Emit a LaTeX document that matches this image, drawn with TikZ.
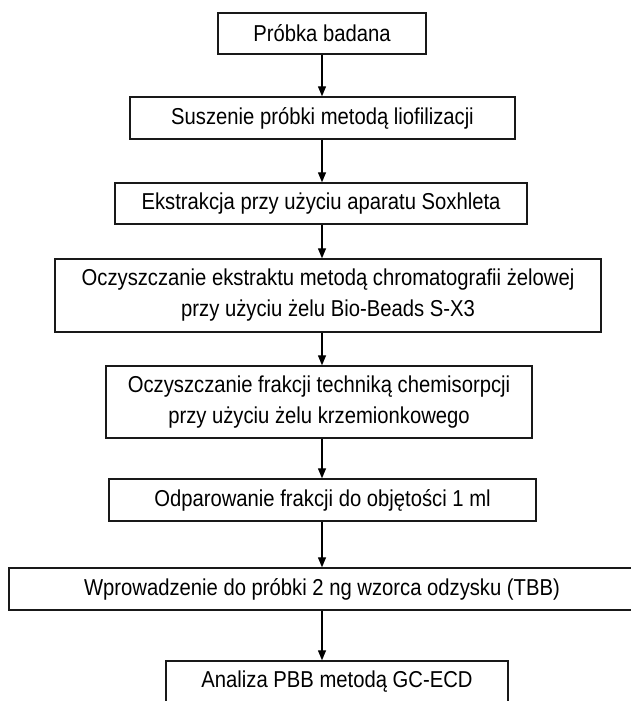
\documentclass[tikz,border=0pt]{standalone}
\usepackage{fontspec}
\setmainfont[FakeStretch=0.88]{Liberation Sans}
\usetikzlibrary{arrows.meta}
\begin{document}
\begin{tikzpicture}[x=1pt,y=-1pt,
  box/.style={draw=black!90, line width=1.4pt, inner sep=0pt, align=center,
    font=\fontsize{23}{31}\selectfont},
  flow/.style={draw=black, line width=1.3pt, -{Triangle[length=10pt,width=8pt]}}]
\useasboundingbox (0,0) rectangle (631,701);
\clip (0,0) rectangle (631,701);
\coordinate (ax) at (322,0);
\node[box, minimum width=208, minimum height=41] (b1) at (322,33.5) {Próbka badana};
\node[box, minimum width=385, minimum height=42] (b2) at (322.5,118) {Suszenie próbki metodą liofilizacji};
\node[box, minimum width=412, minimum height=41] (b3) at (321,203.5) {Ekstrakcja przy użyciu aparatu Soxhleta};
\node[box, minimum width=546, minimum height=73] (b4) at (328,295.5) {Oczyszczanie ekstraktu metodą chromatografii żelowej\\przy użyciu żelu Bio-Beads S-X3};
\node[box, minimum width=426, minimum height=72] (b5) at (319,402) {Oczyszczanie frakcji techniką chemisorpcji\\przy użyciu żelu krzemionkowego};
\node[box, minimum width=427, minimum height=42] (b6) at (322.5,500) {Odparowanie frakcji do objętości 1 ml};
\node[box, minimum width=626, minimum height=42] (b7) at (322,589) {Wprowadzenie do próbki 2 ng wzorca odzysku (TBB)};
\node[box, minimum width=342, minimum height=42] (b8) at (337,682) {Analiza PBB metodą GC-ECD};
\draw[flow] (b1.south -| ax) -- (b2.north -| ax);
\draw[flow] (b2.south -| ax) -- (b3.north -| ax);
\draw[flow] (b3.south -| ax) -- (b4.north -| ax);
\draw[flow] (b4.south -| ax) -- (b5.north -| ax);
\draw[flow] (b5.south -| ax) -- (b6.north -| ax);
\draw[flow] (b6.south -| ax) -- (b7.north -| ax);
\draw[flow] (b7.south -| ax) -- (b8.north -| ax);
\end{tikzpicture}
\end{document}
